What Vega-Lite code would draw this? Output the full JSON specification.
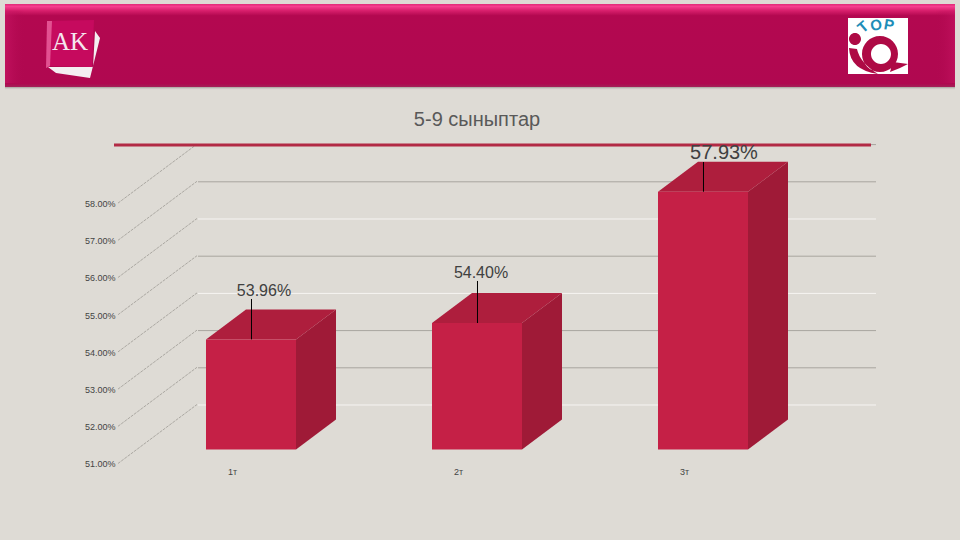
{
"$schema":"https://vega.github.io/schema/vega-lite/v6.json",
"width":960,"height":540,"padding":0,
"autosize":{"type":"fit","contains":"padding"},
"background":"#DEDBD5",
"config":{"view":{"stroke":null},"axis":{"domain":false,"ticks":false,"grid":false}},
"datasets":{
"bars":[
{"period":"1т","pos":1,"value":53.96,"label":"53.96%","labelPos":1.0575,"labelPct":55.261,"leaderTop":55.046},
{"period":"2т","pos":2,"value":54.40,"label":"54.40%","labelPos":2.0177,"labelPct":55.745,"leaderTop":55.530},
{"period":"3т","pos":3,"value":57.93,"label":"57.93%","labelPos":3.0929,"labelPct":58.97,"leaderTop":58.728}],
"grid":[
{"level":51,"tone":"light"},{"level":52,"tone":"dark"},{"level":53,"tone":"dark"},{"level":54,"tone":"light"},
{"level":55,"tone":"dark"},{"level":56,"tone":"light"},{"level":57,"tone":"dark"},{"level":58,"tone":"dark"}],
"faces":[
{"period":"1т","face":"side","pos":1.1991,"low":51,"high":53.96},
{"period":"1т","face":"side","pos":1.3761,"low":51.8065,"high":54.7665},
{"period":"1т","face":"top","pos":0.8009,"low":53.96,"high":53.96},
{"period":"1т","face":"top","pos":0.9779,"low":53.96,"high":54.7665},
{"period":"1т","face":"top","pos":1.1991,"low":53.96,"high":54.7665},
{"period":"1т","face":"top","pos":1.3761,"low":54.7665,"high":54.7665},
{"period":"2т","face":"side","pos":2.1991,"low":51,"high":54.40},
{"period":"2т","face":"side","pos":2.3761,"low":51.8065,"high":55.2065},
{"period":"2т","face":"top","pos":1.8009,"low":54.40,"high":54.40},
{"period":"2т","face":"top","pos":1.9779,"low":54.40,"high":55.2065},
{"period":"2т","face":"top","pos":2.1991,"low":54.40,"high":55.2065},
{"period":"2т","face":"top","pos":2.3761,"low":55.2065,"high":55.2065},
{"period":"3т","face":"side","pos":3.1991,"low":51,"high":57.93},
{"period":"3т","face":"side","pos":3.3761,"low":51.8065,"high":58.7365},
{"period":"3т","face":"top","pos":2.8009,"low":57.93,"high":57.93},
{"period":"3т","face":"top","pos":2.9779,"low":57.93,"high":58.7365},
{"period":"3т","face":"top","pos":3.1991,"low":57.93,"high":58.7365},
{"period":"3т","face":"top","pos":3.3761,"low":58.7365,"high":58.7365}],
"one":[{"item":"chrome"}]
},
"layer":[
{"data":{"name":"one"},
 "mark":{"type":"rect","color":{"gradient":"linear","x1":0,"x2":0,"y1":0,"y2":1,"stops":[{"offset":0,"color":"rgba(120,110,110,0.55)"},{"offset":1,"color":"rgba(200,195,190,0)"}]}},
 "encoding":{
  "x":{"datum":-0.0885,"type":"quantitative","scale":{"domain":[-0.11062,4.13717]},"axis":{"title":null}},
  "x2":{"datum":4.1150},
  "y":{"datum":60.7446,"type":"quantitative","scale":{"domain":[48.5672,63.0833]},"axis":{"title":null}},
  "y2":{"datum":60.664}}},
{"data":{"name":"one"},
 "mark":{"type":"rect","color":{"gradient":"linear","x1":0,"x2":0,"y1":0,"y2":1,"stops":[{"offset":0,"color":"#E02A78"},{"offset":0.03,"color":"#F5408F"},{"offset":0.08,"color":"#D81F6C"},{"offset":0.14,"color":"#B30850"},{"offset":0.96,"color":"#B00850"},{"offset":1,"color":"#A22258"}]}},
 "encoding":{"x":{"datum":-0.0885,"type":"quantitative","scale":{"domain":[-0.11062,4.13717]},"axis":{"title":null}},"x2":{"datum":4.1150},"y":{"datum":62.9758,"type":"quantitative","scale":{"domain":[48.5672,63.0833]},"axis":{"title":null}},"y2":{"datum":60.7446}}},
{"data":{"name":"one"},
 "mark":{"type":"rect","color":{"gradient":"linear","x1":0,"x2":1,"y1":0,"y2":0,"stops":[{"offset":0,"color":"rgba(205,25,105,0.55)"},{"offset":1,"color":"rgba(176,8,80,0)"}]}},
 "encoding":{"x":{"datum":-0.0885,"type":"quantitative","scale":{"domain":[-0.11062,4.13717]},"axis":{"title":null}},"x2":{"datum":0},"y":{"datum":62.80,"type":"quantitative","scale":{"domain":[48.5672,63.0833]},"axis":{"title":null}},"y2":{"datum":60.85}}},
{"data":{"name":"one"},
 "mark":{"type":"rect","color":{"gradient":"linear","x1":0,"x2":1,"y1":0,"y2":0,"stops":[{"offset":0,"color":"rgba(176,8,80,0)"},{"offset":1,"color":"rgba(205,25,105,0.45)"}]}},
 "encoding":{"x":{"datum":4.0265,"type":"quantitative","scale":{"domain":[-0.11062,4.13717]},"axis":{"title":null}},"x2":{"datum":4.1150},"y":{"datum":62.80,"type":"quantitative","scale":{"domain":[48.5672,63.0833]},"axis":{"title":null}},"y2":{"datum":60.85}}},
{"data":{"name":"one"},
 "mark":{"type":"point","filled":true,"size":4,"opacity":1,"strokeWidth":0,"color":"#F4EEF1","shape":"M-24,19 L-16,25 L18,30 L28,-10 L23,-17 L21,19 Z"},
 "encoding":{"x":{"datum":0.2080,"type":"quantitative","scale":{"domain":[-0.11062,4.13717]},"axis":{"title":null}},"y":{"datum":61.793,"type":"quantitative","scale":{"domain":[48.5672,63.0833]},"axis":{"title":null}}}},
{"data":{"name":"one"},
 "mark":{"type":"point","filled":true,"size":4,"opacity":1,"strokeWidth":0,"color":"#C60A5E","shape":"M-25,-27 L22,-28 L20,19 L-22,18 L-26,20 Z"},
 "encoding":{"x":{"datum":0.2080,"type":"quantitative","scale":{"domain":[-0.11062,4.13717]},"axis":{"title":null}},"y":{"datum":61.793,"type":"quantitative","scale":{"domain":[48.5672,63.0833]},"axis":{"title":null}}}},
{"data":{"name":"one"},
 "mark":{"type":"point","filled":true,"size":4,"opacity":0.7,"strokeWidth":0,"color":"#EE6FA6","shape":"M-25,-27 L-20,-27 L-22,18 L-26,20 Z"},
 "encoding":{"x":{"datum":0.2080,"type":"quantitative","scale":{"domain":[-0.11062,4.13717]},"axis":{"title":null}},"y":{"datum":61.793,"type":"quantitative","scale":{"domain":[48.5672,63.0833]},"axis":{"title":null}}}},
{"data":{"name":"one"},
 "mark":{"type":"text","text":"AK","font":"Liberation Serif","fontSize":25,"color":"#F5E6EE","align":"center","baseline":"middle"},
 "encoding":{"x":{"datum":0.1991,"type":"quantitative","scale":{"domain":[-0.11062,4.13717]},"axis":{"title":null}},"y":{"datum":61.954,"type":"quantitative","scale":{"domain":[48.5672,63.0833]},"axis":{"title":null}}}},
{"data":{"name":"one"},
 "mark":{"type":"rect","color":"#FFFFFF"},
 "encoding":{"x":{"datum":3.6416,"type":"quantitative","scale":{"domain":[-0.11062,4.13717]},"axis":{"title":null}},"x2":{"datum":3.9071},"y":{"datum":62.5995,"type":"quantitative","scale":{"domain":[48.5672,63.0833]},"axis":{"title":null}},"y2":{"datum":61.0941}}},
{"data":{"name":"one"},
 "mark":{"type":"point","filled":true,"size":4,"opacity":1,"strokeWidth":0,"color":"#AE0A45","shape":"M-23,-13 A6,6 0 1 1 -23,-1 A6,6 0 1 1 -23,-13 Z M2,-10 A18,18 0 1 1 2,26 A18,18 0 1 1 2,-10 Z M3,-2 A10,10 0 1 0 3,18 A10,10 0 1 0 3,-2 Z M-29,2 Q-28,24 0,28 Q-18,17 -21,3 Z M15,16 L30,18 L22,22 L12,26 Z"},
 "encoding":{"x":{"datum":3.7743,"type":"quantitative","scale":{"domain":[-0.11062,4.13717]},"axis":{"title":null}},"y":{"datum":61.847,"type":"quantitative","scale":{"domain":[48.5672,63.0833]},"axis":{"title":null}}}},
{"data":{"name":"one"},
 "mark":{"type":"text","text":"T","font":"Liberation Sans","fontWeight":"bold","fontSize":15,"color":"#1E8DB8","angle":320,"align":"center","baseline":"middle"},
 "encoding":{"x":{"datum":3.708,"type":"quantitative","scale":{"domain":[-0.11062,4.13717]},"axis":{"title":null}},"y":{"datum":62.356,"type":"quantitative","scale":{"domain":[48.5672,63.0833]},"axis":{"title":null}}}},
{"data":{"name":"one"},
 "mark":{"type":"text","text":"O","font":"Liberation Sans","fontWeight":"bold","fontSize":15,"color":"#1E8DB8","angle":350,"align":"center","baseline":"middle"},
 "encoding":{"x":{"datum":3.7655,"type":"quantitative","scale":{"domain":[-0.11062,4.13717]},"axis":{"title":null}},"y":{"datum":62.41,"type":"quantitative","scale":{"domain":[48.5672,63.0833]},"axis":{"title":null}}}},
{"data":{"name":"one"},
 "mark":{"type":"text","text":"P","font":"Liberation Sans","fontWeight":"bold","fontSize":15,"color":"#1E8DB8","angle":10,"align":"center","baseline":"middle"},
 "encoding":{"x":{"datum":3.823,"type":"quantitative","scale":{"domain":[-0.11062,4.13717]},"axis":{"title":null}},"y":{"datum":62.41,"type":"quantitative","scale":{"domain":[48.5672,63.0833]},"axis":{"title":null}}}},
{"data":{"name":"one"},
 "mark":{"type":"text","text":"5-9 сыныптар","font":"Liberation Sans","fontSize":20,"color":"#595959","align":"center","baseline":"middle"},
 "encoding":{"x":{"datum":2.0,"type":"quantitative","scale":{"domain":[-0.11062,4.13717]},"axis":{"title":null}},"y":{"datum":59.858,"type":"quantitative","scale":{"domain":[48.5672,63.0833]},"axis":{"title":null}}}},
{"data":{"name":"grid"},
 "mark":{"type":"rule","strokeWidth":1,"yOffset":14,"y2Offset":-45,"color":"#ABA8A2","strokeDash":[3,1]},
 "encoding":{"x":{"datum":0.4115,"type":"quantitative","scale":{"domain":[-0.11062,4.13717]},"axis":{"title":null}},"x2":{"datum":0.7611},"y":{"field":"level","type":"quantitative","scale":{"domain":[48.5672,63.0833]},"axis":{"title":null}},"y2":{"field":"level"}}},
{"data":{"name":"grid"},
 "mark":{"type":"rule","strokeWidth":1,"yOffset":-44.5},
 "encoding":{"x":{"datum":0.7655,"type":"quantitative","scale":{"domain":[-0.11062,4.13717]},"axis":{"title":null}},"x2":{"datum":3.7655},"y":{"field":"level","type":"quantitative","scale":{"domain":[48.5672,63.0833]},"axis":{"title":null}},
  "color":{"field":"tone","type":"nominal","legend":null,"scale":{"domain":["light","dark"],"range":["#F6F5F2","#A8A59F"]}}}},
{"data":{"name":"one"},
 "mark":{"type":"rule","strokeWidth":3,"color":"#B22A45"},
 "encoding":{"x":{"datum":0.3938,"type":"quantitative","scale":{"domain":[-0.11062,4.13717]},"axis":{"title":null}},"x2":{"datum":3.7434},"y":{"datum":59.1855,"type":"quantitative","scale":{"domain":[48.5672,63.0833]},"axis":{"title":null}}}},
{"data":{"name":"faces"},
 "mark":{"type":"area","opacity":1,"line":false},
 "encoding":{"x":{"field":"pos","type":"quantitative","scale":{"domain":[-0.11062,4.13717]},"axis":{"title":null}},"y":{"field":"high","type":"quantitative","scale":{"domain":[48.5672,63.0833]},"axis":{"title":null},"stack":null},"y2":{"field":"low"},"detail":{"field":"period"},
  "fill":{"field":"face","type":"nominal","legend":null,"scale":{"domain":["top","side"],"range":["#AE1E3D","#9F1A37"]}}}},
{"data":{"name":"bars"},
 "mark":{"type":"rect","width":90,"color":"#C52046"},
 "encoding":{
  "x":{"field":"pos","type":"quantitative","scale":{"domain":[-0.11062,4.13717]},"axis":{"values":[1,2,3],"title":null,"orient":"bottom","offset":-73,"labelPadding":0,"labelOffset":-19,"labelBaseline":"top","labelFont":"Liberation Sans","labelFontSize":9,"labelColor":"#444444","labelExpr":"datum.value+'т'"}},
  "y":{"field":"value","type":"quantitative","scale":{"domain":[48.5672,63.0833]},"axis":{"values":[51,52,53,54,55,56,57,58],"title":null,"orient":"left","offset":-115,"labelPadding":0,"labelOffset":14.5,"labelFont":"Liberation Sans","labelFontSize":9,"labelColor":"#444444","labelExpr":"format(datum.value,'.2f')+'%'"}},
  "y2":{"datum":51}}},
{"data":{"name":"bars"},
 "mark":{"type":"rule","strokeWidth":1,"color":"#000000","xOffset":0.5},
 "encoding":{"x":{"field":"pos","type":"quantitative","scale":{"domain":[-0.11062,4.13717]},"axis":{"title":null}},"y":{"field":"value","type":"quantitative","scale":{"domain":[48.5672,63.0833]},"axis":{"title":null}},"y2":{"field":"leaderTop"}}},
{"data":{"name":"bars"},
 "mark":{"type":"text","font":"Liberation Sans","color":"#404040","align":"center","baseline":"middle"},
 "encoding":{"x":{"field":"labelPos","type":"quantitative","scale":{"domain":[-0.11062,4.13717]},"axis":{"title":null}},"y":{"field":"labelPct","type":"quantitative","scale":{"domain":[48.5672,63.0833]},"axis":{"title":null}},
  "text":{"field":"label","type":"nominal"},
  "size":{"condition":{"test":"datum.value>57","value":20},"value":16}}}
]
}
